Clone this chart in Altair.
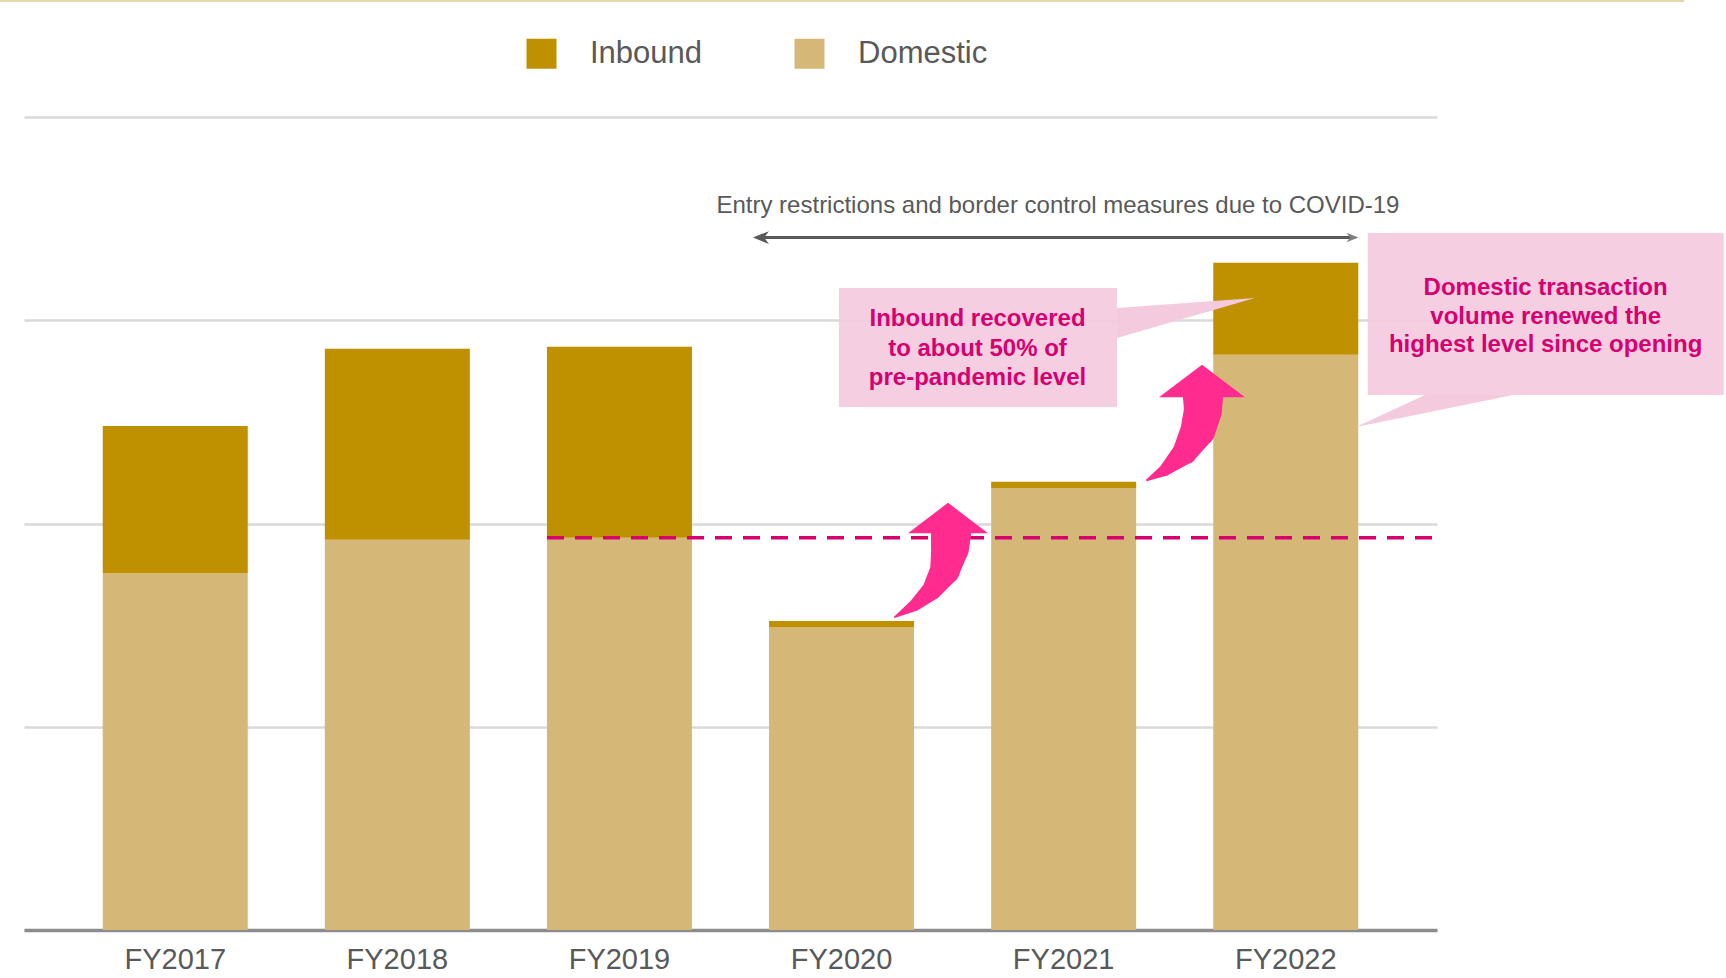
import altair as alt
import pandas as pd

FONT = "Liberation Sans"

# ---- data -------------------------------------------------------------
years = ["FY2017", "FY2018", "FY2019", "FY2020", "FY2021", "FY2022"]
domestic = [175.5, 192.0, 193.0, 149.0, 217.5, 283.0]
inbound = [72.5, 94.0, 94.0, 3.0, 3.0, 45.3]
series = ["Inbound", "Domestic"]
series_colors = ["#BF9000", "#D5B878"]
y_ticks = [0, 100, 200, 300, 400]

# ---- annotation geometry (x: bar index, centres at 0..5; y: value units) ----
covid_text = ["Entry restrictions and border control measures due to COVID-19"]
covid_text_x = [3.974]
covid_text_y = [356.2]
covid_span_x = [2.637, 5.30]
covid_span_y = [340.7]

callout1_lines = ["Inbound recovered", "to about 50% of", "pre-pandemic level"]
callout1_text_x = [3.612, 3.612, 3.612]
callout1_text_y = [300.6, 285.9, 271.6]
callout1_box_x = [2.988, 4.240]
callout1_box_y = [257.3, 315.9]
callout1_ptr_x = [4.240, 4.861]
callout1_ptr_top = [306.0, 310.9]
callout1_ptr_bot = [291.3, 310.9]

callout2_lines = ["Domestic transaction", "volume renewed the", "highest level since opening"]
callout2_text_x = [6.170, 6.170, 6.170]
callout2_text_y = [315.9, 301.6, 287.8]
callout2_box_x = [5.369, 6.972]
callout2_box_y = [263.2, 342.9]
callout2_ptr_x = [5.316, 5.627, 6.023]
callout2_ptr_top = [247.5, 263.2, 263.2]
callout2_ptr_bot = [247.5, 254.4, 263.2]

arrow1_x = [3.2404, 3.3305, 3.4071, 3.4656, 3.4881, 3.4926]
arrow1_y = [154.0, 159.9, 167.3, 177.1, 187.9, 194.8]
arrow1_w = [2, 12, 20, 30, 38, 40]
arrow1_head = [3.4791, 202.7]

arrow2_x = [4.3751, 4.4561, 4.5462, 4.6047, 4.6272, 4.6272]
arrow2_y = [221.4, 226.3, 235.2, 246.0, 255.8, 261.7]
arrow2_w = [2, 12, 25, 35, 38, 40]
arrow2_head = [4.6227, 270.1]

top_line_x = [-0.789, 6.793]
top_line_y = [457.1]

# ---- tables -----------------------------------------------------------
rows = []
for i, yr in enumerate(years):
    rows.append({"year": yr, "series": "Domestic", "value": domestic[i], "ord": 0})
    rows.append({"year": yr, "series": "Inbound", "value": inbound[i], "ord": 1})
bars_df = pd.DataFrame(rows)

ys = alt.Scale(domain=[0, 400], nice=False, zero=True)
y_axis = alt.Axis(values=y_ticks, labels=False, ticks=False, domain=False,
                  grid=True, gridColor="#D9D9D9", gridWidth=2.5, title=None)
xa_scale = alt.Scale(domain=[-0.6812, 5.6808], nice=False, zero=False)


def XA(field="x"):
    return alt.X(f"{field}:Q", scale=xa_scale, axis=None)


def YA(field="y"):
    return alt.Y(f"{field}:Q", scale=ys, axis=y_axis)


bars = alt.Chart(bars_df).mark_bar().encode(
    x=alt.X(
        "year:N",
        sort=years,
        scale=alt.Scale(paddingInner=0.3471, paddingOuter=0.3545),
        axis=alt.Axis(
            title=None, labelAngle=0, labelFontSize=29, labelColor="#595959",
            labelFont=FONT, labelPadding=15, ticks=False,
            domainColor="#8C8C8C", domainWidth=3.5,
        ),
    ),
    y=alt.Y("value:Q", stack="zero", scale=ys, axis=y_axis),
    color=alt.Color(
        "series:N",
        scale=alt.Scale(domain=series, range=series_colors),
        legend=alt.Legend(
            orient="none", legendX=502, legendY=-79, direction="horizontal",
            title=None, symbolType="square", symbolSize=900, symbolStrokeWidth=0,
            labelFontSize=31, labelColor="#595959", labelFont=FONT,
            labelOffset=33, columnPadding=91,
        ),
    ),
    order=alt.Order("ord:Q", sort="ascending"),
)

# top tan line
top_df = pd.DataFrame({"x": [top_line_x[0]], "x2": [top_line_x[1]], "y": top_line_y})
top_line = alt.Chart(top_df).mark_rule(color="#E6D8A8", strokeWidth=2).encode(
    x=XA(), x2="x2:Q", y=YA()
)

# callout pointers (areas)
p1_df = pd.DataFrame({"x": callout1_ptr_x, "y": callout1_ptr_top, "y2": callout1_ptr_bot})
p2_df = pd.DataFrame({"x": callout2_ptr_x, "y": callout2_ptr_top, "y2": callout2_ptr_bot})
ptr1 = alt.Chart(p1_df).mark_area(color="#F4CADF").encode(x=XA(), y=YA(), y2="y2:Q")
ptr2 = alt.Chart(p2_df).mark_area(color="#F4CADF").encode(x=XA(), y=YA(), y2="y2:Q")

# callout boxes
box_df = pd.DataFrame({
    "x": [callout1_box_x[0], callout2_box_x[0]],
    "x2": [callout1_box_x[1], callout2_box_x[1]],
    "y": [callout1_box_y[0], callout2_box_y[0]],
    "y2": [callout1_box_y[1], callout2_box_y[1]],
})
boxes = alt.Chart(box_df).mark_rect(color="#F4CADF", opacity=0.92).encode(
    x=XA(), x2="x2:Q", y=YA(), y2="y2:Q"
)

# dashed reference line at FY2019 domestic level
dash_df = pd.DataFrame({"x": [2 - 0.3265], "x2": [5.66], "y": [domestic[2]]})
dash = alt.Chart(dash_df).mark_rule(
    color="#D6006F", strokeWidth=3.5, strokeDash=[17, 11]
).encode(x=XA(), x2="x2:Q", y=YA())

# callout texts
ct_df = pd.DataFrame({
    "x": callout1_text_x + callout2_text_x,
    "y": callout1_text_y + callout2_text_y,
    "t": callout1_lines + callout2_lines,
})
ctext = alt.Chart(ct_df).mark_text(
    font=FONT, fontSize=24, fontWeight="bold", color="#D6006F",
    align="center", baseline="middle",
).encode(x=XA(), y=YA(), text="t:N")

# pink curved arrows
PINK = "#FF2B8E"
a1_df = pd.DataFrame({"x": arrow1_x, "y": arrow1_y, "w": arrow1_w, "o": range(len(arrow1_x))})
a2_df = pd.DataFrame({"x": arrow2_x, "y": arrow2_y, "w": arrow2_w, "o": range(len(arrow2_x))})
trail1 = alt.Chart(a1_df).mark_trail(color=PINK).encode(
    x=XA(), y=YA(), size=alt.Size("w:Q", scale=None, legend=None), order="o:Q"
)
trail2 = alt.Chart(a2_df).mark_trail(color=PINK).encode(
    x=XA(), y=YA(), size=alt.Size("w:Q", scale=None, legend=None), order="o:Q"
)
head1_df = pd.DataFrame({"x": [arrow1_head[0]], "y": [arrow1_head[1]]})
head2_df = pd.DataFrame({"x": [arrow2_head[0]], "y": [arrow2_head[1]]})
head1 = alt.Chart(head1_df).mark_point(
    shape="M-1,0.38L0,-0.38L1,0.38Z", filled=True, size=6400, color=PINK, opacity=1
).encode(x=XA(), y=YA())
head2 = alt.Chart(head2_df).mark_point(
    shape="M-1,0.38L0,-0.38L1,0.38Z", filled=True, size=7396, color=PINK, opacity=1
).encode(x=XA(), y=YA())

# COVID span text and double arrow
cov_df = pd.DataFrame({"x": covid_text_x, "y": covid_text_y, "t": covid_text})
cov_text = alt.Chart(cov_df).mark_text(
    font=FONT, fontSize=24, color="#595959", align="center", baseline="middle"
).encode(x=XA(), y=YA(), text="t:N")
span_df = pd.DataFrame({"x": [covid_span_x[0]], "x2": [covid_span_x[1]], "y": covid_span_y})
span = alt.Chart(span_df).mark_rule(color="#595959", strokeWidth=3).encode(
    x=XA(), x2="x2:Q", y=YA()
)
lh_df = pd.DataFrame({"x": [covid_span_x[0]], "y": covid_span_y})
rh_df = pd.DataFrame({"x": [covid_span_x[1]], "y": covid_span_y})
lhead = alt.Chart(lh_df).mark_point(
    shape="M-1,0L1,-0.8L0.4,0L1,0.8Z", filled=True, size=256, color="#595959", opacity=1
).encode(x=XA(), y=YA())
rhead = alt.Chart(rh_df).mark_point(
    shape="M1,0L-1,-0.8L-0.4,0L-1,0.8Z", filled=True, size=144, color="#7F7F7F", opacity=1
).encode(x=XA(), y=YA())

chart = alt.layer(
    bars, top_line, ptr1, ptr2, boxes, dash, ctext,
    trail1, trail2, head1, head2, cov_text, span, lhead, rhead,
).resolve_scale(x="independent").properties(
    width=1413, height=813,
    padding={"left": 24, "top": 117, "right": 289, "bottom": 48},
    autosize=alt.AutoSizeParams(type="none"),
    background="white",
).configure_view(stroke=None)

chart.save("out.html", embed_options={"renderer": "svg", "actions": False})
